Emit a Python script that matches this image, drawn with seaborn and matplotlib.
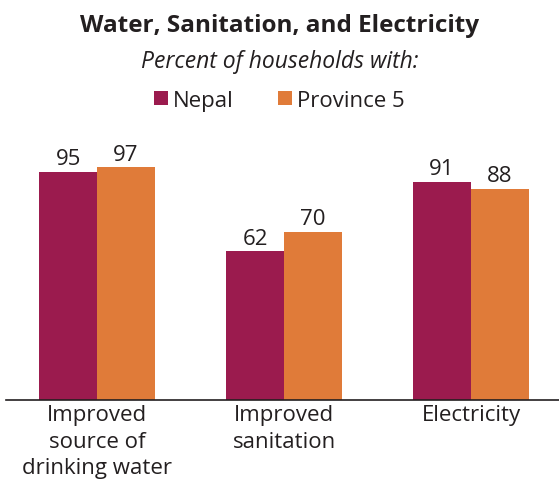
import pandas as pd
import matplotlib.pyplot as plt
import seaborn as sns

# Chart data
categories = ["Improved\nsource of\ndrinking water", "Improved\nsanitation", "Electricity"]
nepal = [95, 62, 91]
province5 = [97, 70, 88]
series_names = ["Nepal", "Province 5"]

df = pd.DataFrame({
    "Category": categories * 2,
    "Value": nepal + province5,
    "Area": [series_names[0]] * 3 + [series_names[1]] * 3,
})

sns.set_style("white")
plt.rcParams["font.family"] = ["Open Sans", "DejaVu Sans"]

fig = plt.figure(figsize=(5.59, 4.89), dpi=100)
ax = fig.add_axes([0.0107, 0.18, 0.9893, 0.554])

palette = {"Nepal": "#9b1b4e", "Province 5": "#e07b39"}
sns.barplot(data=df, x="Category", y="Value", hue="Area", palette=palette,
            width=0.62, gap=0, saturation=1, ax=ax, edgecolor="none")

for c in ax.containers:
    ax.bar_label(c, fmt="%d", padding=2, fontsize=16, color="#231f20")

ax.set_xlim(-0.487, 2.47)
ax.set_ylim(0, 113)
ax.set_xlabel("")
ax.set_ylabel("")
ax.set_yticks([])
ax.tick_params(axis="x", length=0, pad=3, labelsize=16, labelcolor="#231f20")
for lbl in ax.get_xticklabels():
    lbl.set_linespacing(1.35)
for s in ["top", "left", "right"]:
    ax.spines[s].set_visible(False)
ax.spines["bottom"].set_color("#231f20")
ax.spines["bottom"].set_linewidth(1.2)

sns.move_legend(ax, "center", bbox_to_anchor=(0.5, 0.792), bbox_transform=fig.transFigure,
                ncol=2, frameon=False, title=None, fontsize=16, handlelength=0.6,
                handleheight=0.6, handletextpad=0.25, columnspacing=2.0)
for t in ax.get_legend().get_texts():
    t.set_color("#231f20")

fig.text(0.5, 0.947, "Water, Sanitation, and Electricity", ha="center", va="center",
         fontsize=17.5, fontweight="bold", color="#231f20")
fig.text(0.5, 0.873, "Percent of households with:", ha="center", va="center",
         fontsize=16.5, style="italic", color="#231f20")

fig.savefig("out.png", dpi=100)
